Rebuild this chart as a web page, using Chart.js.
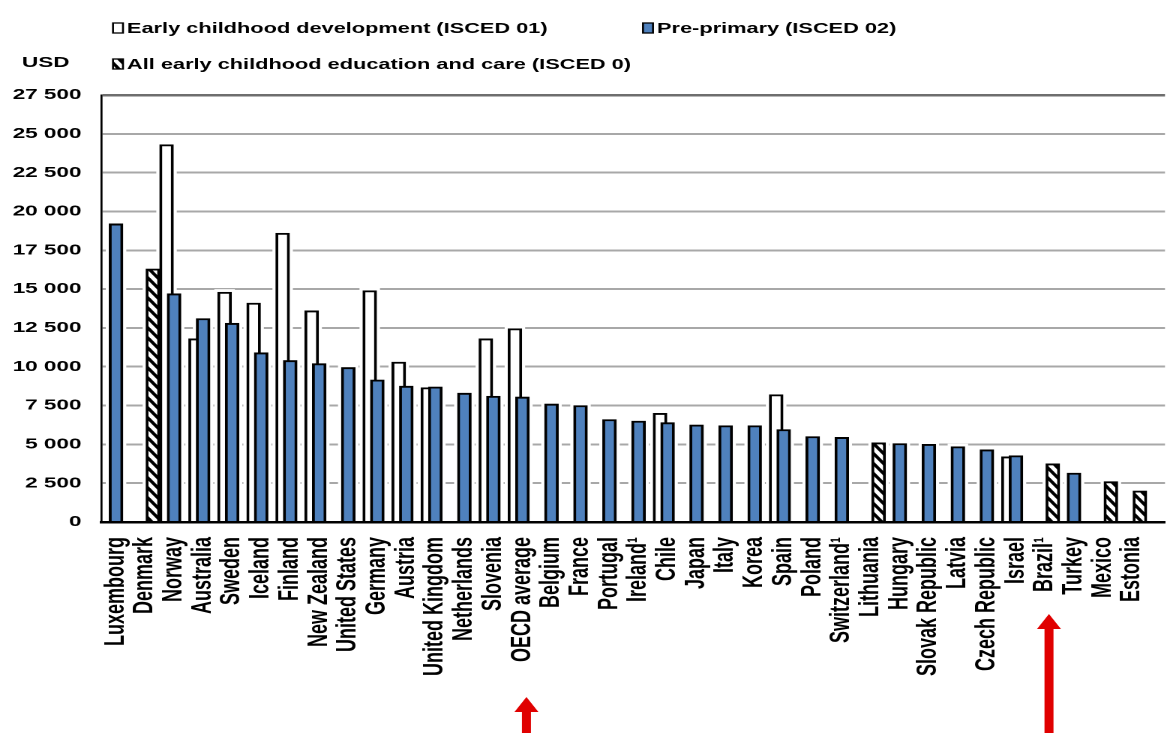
<!DOCTYPE html>
<html>
<head>
<meta charset="utf-8">
<title>Annual expenditure per child on early childhood education</title>
<script src="https://cdn.jsdelivr.net/npm/chart.js@4"></script>
<style>
  html, body { margin: 0; padding: 0; background: #fff; overflow: hidden; }
  /* the chart is laid out on a narrower canvas and widened horizontally */
  #wrap { position: absolute; left: 0; top: 0; width: 778px; height: 733px;
          transform: scaleX(1.5); transform-origin: 0 0; }
</style>
</head>
<body>
<div id="wrap"><canvas id="chart"></canvas></div>
<script>
// ---- data -------------------------------------------------------------
const countries = [
  'Luxembourg', 'Denmark', 'Norway', 'Australia', 'Sweden', 'Iceland', 'Finland',
  'New Zealand', 'United States', 'Germany', 'Austria', 'United Kingdom',
  'Netherlands', 'Slovenia', 'OECD average', 'Belgium', 'France', 'Portugal',
  'Ireland¹', 'Chile', 'Japan', 'Italy', 'Korea', 'Spain', 'Poland',
  'Switzerland¹', 'Lithuania', 'Hungary', 'Slovak Republic', 'Latvia',
  'Czech Republic', 'Israel', 'Brazil¹', 'Turkey', 'Mexico', 'Estonia'
];

// Early childhood development (ISCED 01), USD
const isced01 = [
  null, null, 24300, 11800, 14800, 14100, 18600, 13600, null, 14900, 10300, 8650,
  null, 11800, 12450, null, null, null, null, 7000, null, null, null, 8200, null,
  null, null, null, null, null, null, 4200, null, null, null, null
];

// Pre-primary (ISCED 02), USD
const isced02 = [
  19200, null, 14700, 13100, 12800, 10900, 10400, 10200, 9950, 9150, 8750, 8700,
  8300, 8100, 8050, 7600, 7500, 6600, 6500, 6400, 6250, 6200, 6200, 5950, 5500,
  5450, null, 5050, 5000, 4850, 4650, 4270, null, 3150, null, null
];

// All early childhood education and care (ISCED 0), USD
const isced0 = [
  null, 16300, null, null, null, null, null, null, null, null, null, null,
  null, null, null, null, null, null, null, null, null, null, null, null, null,
  null, 5100, null, null, null, null, null, 3750, null, 2600, 2000
];

const seriesNames = [
  'Early childhood development (ISCED 01)',
  'Pre-primary (ISCED 02)',
  'All early childhood education and care (ISCED 0)'
];
const unitLabel = 'USD';
const yMax = 27500;
const yStep = 2500;
const highlighted = ['OECD average', 'Brazil¹'];

// ---- layout -----------------------------------------------------------
const SX = 1.5;                      // horizontal widening applied by CSS
const u = v => v / SX;               // page px (horizontal) -> canvas px
const CANVAS_W = 1167 / SX;
const PLOT_LEFT = u(101.5), PLOT_RIGHT = u(1165), PLOT_TOP = 95, PLOT_BOTTOM = 522;
const SLOT = 29.03;                  // page px per country
const X_MIN = -0.5;
const X_MAX = (1165 - 101.5) / SLOT - 0.5;
const SHIFT_01 = 0.26;               // ISCED 01 bar sits left of centre
const SHIFT_0 = -0.27;               // ISCED 0 bar sits right of centre
const BLUE = '#4f81bd';
const FONT = '"Liberation Sans", Arial, Helvetica, sans-serif';

Chart.defaults.font.family = FONT;
Chart.defaults.color = '#000';

// diagonal hatching for ISCED 0
function makeHatch() {
  const k = 3, tw = 20, th = 30;   // tile at 3x resolution
  const c = document.createElement('canvas');
  c.width = tw; c.height = th;
  const g = c.getContext('2d');
  g.fillStyle = '#fff';
  g.fillRect(0, 0, tw, th);
  g.strokeStyle = '#000';
  g.lineWidth = 7.5;
  for (let s = -2; s <= 2; s++) {
    g.beginPath();
    g.moveTo(s * tw - tw, -th);
    g.lineTo(s * tw + 2 * tw, 2 * th);
    g.stroke();
  }
  const p = document.createElement('canvas').getContext('2d').createPattern(c, 'repeat');
  p.setTransform(new DOMMatrix([1 / k, 0, 0, 1 / k, 0, 0]));
  return p;
}
const hatch = makeHatch();

const toPoints = arr => arr
  .map((v, i) => (v == null ? null : { x: i, y: v }))
  .filter(Boolean);

// each series has its own horizontal scale, so bars are not grouped
const barStyle = {
  borderColor: '#000',
  borderWidth: 1.9,
  borderSkipped: 'start',
  grouped: false,
  barPercentage: 1,
  categoryPercentage: 1,
  maxBarThickness: u(13.5)
};

const thousands = v => String(v).replace(/\B(?=(\d{3})+(?!\d))/g, ' ');

// white gaps around each bar, so grid lines stop short of the bars
const barHalo = {
  id: 'barHalo',
  beforeDatasetsDraw(chart) {
    const ctx = chart.ctx;
    ctx.save();
    ctx.fillStyle = '#fff';
    chart.getSortedVisibleDatasetMetas().forEach(meta => {
      meta.data.forEach(el => {
        const { x, y, base, width } = el.getProps(['x', 'y', 'base', 'width'], true);
        const hx = u(3.5), hy = 3;
        ctx.fillRect(x - width / 2 - hx, y - hy, width + 2 * hx, base - y + hy);
      });
    });
    ctx.restore();
  }
};

// legend, unit label and the two red arrows
const annotations = {
  id: 'annotations',
  afterDraw(chart) {
    const ctx = chart.ctx;
    ctx.save();

    // unit
    ctx.font = 'bold 15px ' + FONT;
    ctx.fillStyle = '#000';
    ctx.textBaseline = 'middle';
    ctx.textAlign = 'left';
    ctx.fillText(unitLabel, u(22), 63);

    // legend
    const places = [
      { ds: 0, x: 113, y: 28 },
      { ds: 1, x: 643, y: 28 },
      { ds: 2, x: 113, y: 64 }
    ];
    ctx.font = 'bold 14.5px ' + FONT;
    places.forEach(p => {
      const ds = chart.data.datasets[p.ds];
      ctx.fillStyle = ds.backgroundColor;
      ctx.fillRect(u(p.x), p.y - 5, u(10), 10);
      ctx.lineWidth = 1.3;
      ctx.strokeStyle = '#000';
      ctx.strokeRect(u(p.x), p.y - 5, u(10), 10);
      ctx.fillStyle = '#000';
      ctx.fillText(ds.label, u(p.x + 14), p.y + 1);
    });

    // arrows under the highlighted countries
    const xs = chart.scales.x;
    const tips = [697, 614];
    ctx.fillStyle = '#e00000';
    highlighted.forEach((name, k) => {
      const cx = xs.getPixelForValue(countries.indexOf(name)) + u(4);
      const tip = tips[k];
      const hw = u(12), sw = u(4.5), hh = 15;
      ctx.beginPath();
      ctx.moveTo(cx, tip);
      ctx.lineTo(cx + hw, tip + hh);
      ctx.lineTo(cx + sw, tip + hh);
      ctx.lineTo(cx + sw, 740);
      ctx.lineTo(cx - sw, 740);
      ctx.lineTo(cx - sw, tip + hh);
      ctx.lineTo(cx - hw, tip + hh);
      ctx.closePath();
      ctx.fill();
    });
    ctx.restore();
  }
};

// keep every horizontal scale on exactly the same span (no nice rounding, no offset)
const pinRange = shift => s => { s.min = X_MIN + shift; s.max = X_MAX + shift; };

const hiddenX = shift => ({
  type: 'linear', display: false, offset: false, bounds: 'data',
  min: X_MIN + shift, max: X_MAX + shift,
  afterBuildTicks: pinRange(shift)
});

new Chart(document.getElementById('chart'), {
  type: 'bar',
  data: {
    datasets: [
      Object.assign({ label: seriesNames[0], data: toPoints(isced01), xAxisID: 'xw',
                      backgroundColor: '#fff', order: 3 }, barStyle),
      Object.assign({ label: seriesNames[1], data: toPoints(isced02), xAxisID: 'xb',
                      backgroundColor: BLUE, order: 1 }, barStyle),
      Object.assign({ label: seriesNames[2], data: toPoints(isced0), xAxisID: 'xh',
                      backgroundColor: hatch, order: 2 }, barStyle)
    ]
  },
  options: {
    responsive: true,
    maintainAspectRatio: false,
    animation: false,
    devicePixelRatio: 2,
    layout: { padding: { top: PLOT_TOP, left: 0, right: CANVAS_W - PLOT_RIGHT, bottom: 0 } },
    plugins: { legend: { display: false }, tooltip: { enabled: false } },
    scales: {
      x: {
        type: 'linear', position: 'bottom', offset: false, min: X_MIN, max: X_MAX,
        grid: { display: false, drawTicks: false, offset: false },
        border: { display: true, color: '#000', width: 2.5, z: 1 },
        ticks: {
          autoSkip: false, minRotation: 90, maxRotation: 90, padding: 15,
          color: '#000', font: { size: 18, weight: 'bold' },
          callback: v => countries[v] ?? ''
        },
        afterBuildTicks(s) {
          s.ticks = countries.map((_, i) => ({ value: i }));
          s.min = X_MIN; s.max = X_MAX;
        },
        afterFit(s) { s.height = 733 - PLOT_BOTTOM; s.paddingLeft = 0; s.paddingRight = 0; }
      },
      xw: hiddenX(SHIFT_01),
      xb: hiddenX(0),
      xh: hiddenX(SHIFT_0),
      y: {
        min: 0, max: yMax,
        grid: {
          drawTicks: false,
          color: c => (c.tick && c.tick.value === yMax ? '#6e6e6e' : '#a8a8a8'),
          lineWidth: c => (c.tick && c.tick.value === yMax ? 2.5 : 2)
        },
        border: { display: true, color: '#000', width: u(2), z: 1 },
        ticks: {
          stepSize: yStep, padding: u(20),
          color: '#000', font: { size: 15, weight: 'bold' },
          callback: thousands
        },
        afterFit(s) { s.width = PLOT_LEFT; }
      }
    }
  },
  plugins: [barHalo, annotations]
});
</script>
</body>
</html>
